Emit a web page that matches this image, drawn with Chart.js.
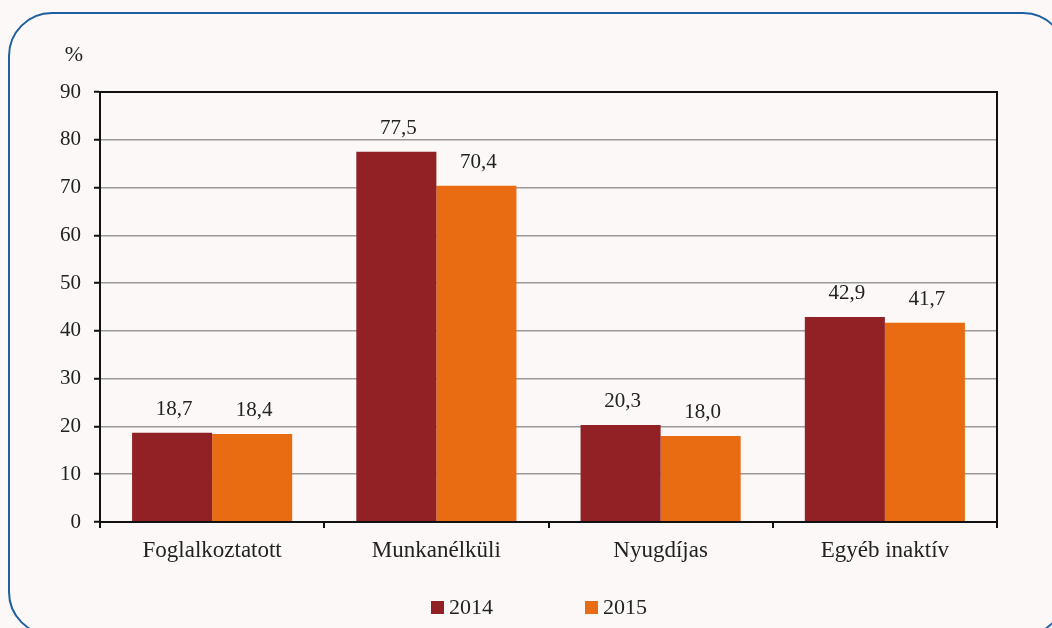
<!DOCTYPE html>
<html lang="hu">
<head>
<meta charset="UTF-8">
<title>Chart</title>
<script src="https://cdn.jsdelivr.net/npm/chart.js"></script>
<style>
    html, body { margin: 0; padding: 0; background: #fbf8f7; overflow: hidden; }
    .keret {
        position: absolute; left: 8px; top: 12px;
        width: 1055px; height: 620px;
        border: 2.5px solid #1d5fa0; border-radius: 44px;
    }
    .doboz { position: absolute; left: 0; top: 0; width: 1052px; height: 628px; }
</style>
</head>
<body>
<div class="keret"></div>
<div class="doboz"><canvas id="grafikon" width="1052" height="628"></canvas></div>

<script>
    const kategoriak = ['Foglalkoztatott', 'Munkanélküli', 'Nyugdíjas', 'Egyéb inaktív'];
    const ertekek2014 = [18.7, 77.5, 20.3, 42.9];
    const ertekek2015 = [18.4, 70.4, 18.0, 41.7];
    const evek = ['2014', '2015'];
    const szinek = ['#922126', '#e96c12'];
    const yTickek = [0, 10, 20, 30, 40, 50, 60, 70, 80, 90];

    const betu = '"Liberation Serif", "DejaVu Serif", serif';
    const szovegSzin = '#222';

    // feliratok a oszlopok felett, % jel, keret es jelmagyarazat
    const rajzolo = {
        id: 'rajzolo',
        afterDraw(chart) {
            const ctx = chart.ctx;
            const ca = chart.chartArea;
            ctx.save();

            ctx.strokeStyle = '#111';
            ctx.lineWidth = 2;
            ctx.strokeRect(ca.left, ca.top, ca.right - ca.left, ca.bottom - ca.top);

            ctx.font = '21px ' + betu;
            ctx.fillStyle = szovegSzin;
            ctx.textAlign = 'center';
            ctx.textBaseline = 'alphabetic';
            chart.data.datasets.forEach((ds, i) => {
                chart.getDatasetMeta(i).data.forEach((bar, j) => {
                    const szoveg = ds.data[j].toFixed(1).replace('.', ',');
                    ctx.fillText(szoveg, bar.x + 2, bar.y - 18);
                });
            });

            ctx.font = '22px ' + betu;
            ctx.fillText('%', 74, 61);

            // jelmagyarazat
            ctx.font = '22px ' + betu;
            ctx.textAlign = 'left';
            chart.data.datasets.forEach((ds, i) => {
                const x = 431 + i * 154;
                ctx.fillStyle = ds.backgroundColor;
                ctx.fillRect(x, 601, 13, 13);
                ctx.fillStyle = szovegSzin;
                ctx.fillText(ds.label, x + 18, 614);
            });

            ctx.restore();
        }
    };

    new Chart(document.getElementById('grafikon'), {
        type: 'bar',
        data: {
            labels: kategoriak,
            datasets: [
                { label: evek[0], data: ertekek2014, backgroundColor: szinek[0], borderWidth: 0,
                  categoryPercentage: 0.714, barPercentage: 1 },
                { label: evek[1], data: ertekek2015, backgroundColor: szinek[1], borderWidth: 0,
                  categoryPercentage: 0.714, barPercentage: 1 }
            ]
        },
        options: {
            responsive: false,
            animation: false,
            layout: { padding: { left: 0, right: 55, top: 92, bottom: 46 } },
            plugins: {
                legend: { display: false },
                tooltip: { enabled: false }
            },
            scales: {
                x: {
                    afterFit(scale) { scale.height = 60; },
                    grid: {
                        offset: true,
                        drawOnChartArea: false,
                        drawTicks: true,
                        tickLength: 6,
                        tickColor: '#111',
                        lineWidth: 2
                    },
                    border: { display: true, color: '#111', width: 2 },
                    ticks: {
                        color: szovegSzin,
                        padding: 9,
                        font: { family: betu, size: 23 }
                    }
                },
                y: {
                    min: 0,
                    max: 90,
                    afterFit(scale) { scale.width = 100; },
                    afterBuildTicks(scale) { scale.ticks = yTickek.map(v => ({ value: v })); },
                    grid: {
                        color: '#9a9a9a',
                        lineWidth: 1.5,
                        tickLength: 6,
                        tickColor: '#111',
                        tickWidth: 2
                    },
                    border: { display: true, color: '#111', width: 2 },
                    ticks: {
                        color: szovegSzin,
                        padding: 13,
                        font: { family: betu, size: 21 }
                    }
                }
            }
        },
        plugins: [rajzolo]
    });
</script>
</body>
</html>
